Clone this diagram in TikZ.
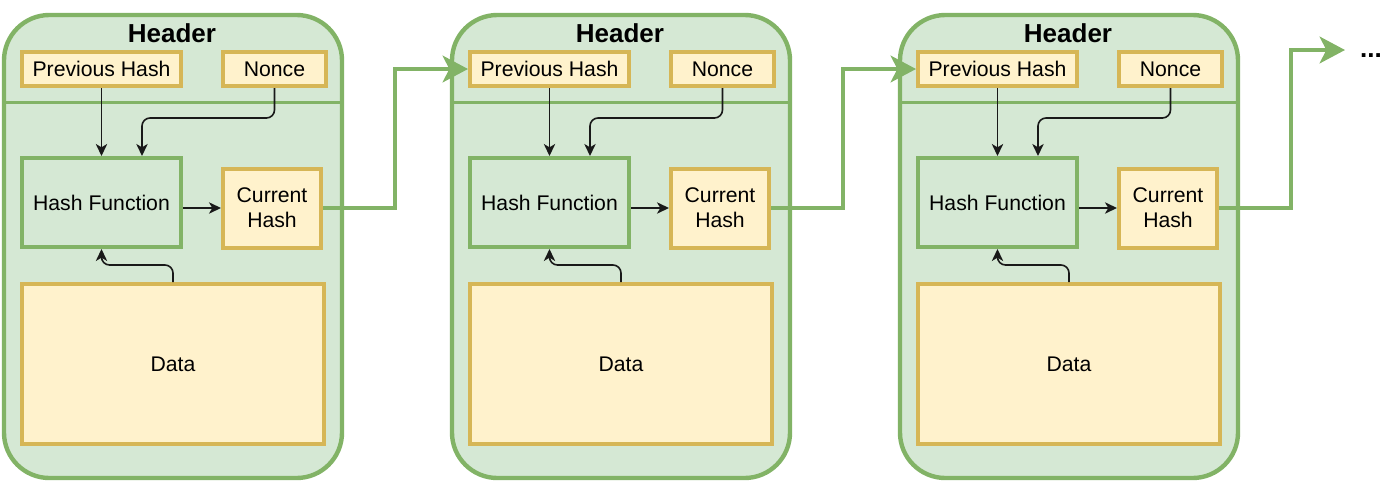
\documentclass[tikz,border=0pt]{standalone}
\usepackage{fontspec}
\setmainfont{Liberation Sans}
\usetikzlibrary{arrows.meta,calc}
\definecolor{gfill}{HTML}{D5E8D4}
\definecolor{gline}{HTML}{82B366}
\definecolor{yfill}{HTML}{FFF2CC}
\definecolor{yline}{HTML}{D6B656}
\begin{document}
\begin{tikzpicture}[x=0.75pt,y=-0.75pt,
  txt/.style={font=\fontsize{15.9}{18.9}\selectfont, align=center, text=black},
  gbox/.style={txt, draw=gline, fill=gfill, line width=3pt, inner sep=0pt},
  ybox/.style={txt, draw=yline, fill=yfill, line width=3pt, inner sep=0pt},
  outer/.style={draw=gline, fill=gfill, line width=3.3pt, rounded corners=34pt, inner sep=0pt},
  arr/.style={draw=black!90, line width=1.2pt, -{Stealth[length=9pt,width=8.5pt,inset=2.5pt]}, rounded corners=6pt},
  link/.style={draw=gline, line width=3pt, -{Stealth[length=19pt,width=20pt,inset=5pt]}},
  hdr/.style={font=\fontsize{19.5}{22}\selectfont\bfseries, text=black}
]
\useasboundingbox (0,0) rectangle (1400,483);
\foreach \i in {1,2,3}{
  \pgfmathsetmacro{\ox}{448*(\i-1)}
  \begin{scope}[xshift=\ox*0.75pt]
    \node[outer, minimum width=338*0.75pt, minimum height=463*0.75pt] (ob\i) at (173,246.5) {};
    \draw[gline, line width=2.25pt] (3.5,102) -- (342.5,102);
    \node[hdr] (hd\i) at (172,33) {Header};
    \node[ybox, minimum width=159*0.75pt, minimum height=34*0.75pt] (pv\i) at (101.5,69) {Previous Hash};
    \node[ybox, minimum width=103*0.75pt, minimum height=34*0.75pt] (nc\i) at (274.5,69) {Nonce};
    \node[gbox, minimum width=159*0.75pt, minimum height=89*0.75pt] (hf\i) at (101.5,202.5) {Hash Function};
    \node[ybox, minimum width=98*0.75pt, minimum height=79*0.75pt] (ch\i) at (272,208) {Current\\Hash};
    \node[ybox, minimum width=302*0.75pt, minimum height=160*0.75pt] (dt\i) at (173,364) {Data};
  \end{scope}
  \draw[arr] (pv\i.south) -- (pv\i.south |- hf\i.north);
  \draw[arr] (nc\i.south) -- ++(0,30) -| ($(hf\i.north)+(40.5,0)$);
  \draw[arr] (ch\i.west -| hf\i.east) -- (ch\i.west);
  \draw[arr] (dt\i.north) -- ++(0,-17) -| (hf\i.south);
}
\draw[link] (ch1.east) -- ++(72,0) |- (pv2.west);
\draw[link] (ch2.east) -- ++(72,0) |- (pv3.west);
\coordinate (endpt) at (1345,50);
\draw[link] (ch3.east) -- ++(72,0) |- (endpt);
\node[hdr] (dots) at (1371,56) {...};
\end{tikzpicture}
\end{document}
